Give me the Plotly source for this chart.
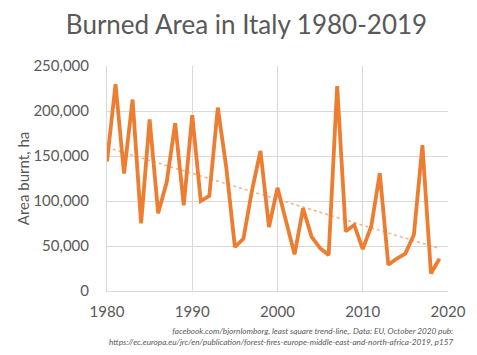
import numpy as np
import plotly.graph_objects as go

years = list(range(1980, 2020))
area = [143919, 229850, 130456, 212678, 75272, 190640, 86420, 120697, 186405, 95161,
        195319, 99860, 105692, 203749, 136334, 48884, 57988, 111230, 155553, 71117,
        114648, 76427, 40791, 91805, 60176, 47575, 39946, 227729, 66329, 73355,
        46537, 72004, 130814, 29076, 36125, 41511, 62581, 161987, 19481, 36034]
x_ticks = [1980, 1990, 2000, 2010, 2020]
y_ticks = [0, 50000, 100000, 150000, 200000, 250000]

coef = np.polyfit(years, area, 1)
trend = [coef[0] * y + coef[1] for y in years]

font = "Lato, 'Open Sans', sans-serif"
grey = "#595959"

fig = go.Figure()
fig.add_trace(go.Scatter(x=years, y=trend, mode="lines",
                         line=dict(color="#F4B183", width=1.5, dash="dot"),
                         hoverinfo="skip", showlegend=False))
fig.add_trace(go.Scatter(x=years, y=area, mode="lines",
                         line=dict(color="#ED7D31", width=3.8),
                         showlegend=False))

fig.update_layout(
    width=477, height=355,
    margin=dict(l=99, r=37, t=58, b=72),
    paper_bgcolor="white", plot_bgcolor="white",
    font=dict(family=font, color=grey, size=15),
    title=dict(text="Burned Area in Italy 1980-2019", x=0.5, xanchor="center",
               xref="container", y=0.952, yanchor="middle",
               font=dict(size=26, color=grey, family=font)),
    xaxis=dict(range=[1980, 2020], tickvals=x_ticks, showgrid=True, gridcolor="#D9D9D9",
               gridwidth=1, zeroline=False, showline=True, linecolor="#D9D9D9",
               ticks="outside", ticklen=7, tickcolor="rgba(0,0,0,0)", automargin=False,
               tickfont=dict(size=15, color=grey)),
    yaxis=dict(range=[0, 250000], tickvals=y_ticks, tickformat=",", showgrid=True,
               gridcolor="#D9D9D9", gridwidth=1, zeroline=False, showline=True,
               linecolor="#D9D9D9", ticks="outside", ticklen=14, tickcolor="rgba(0,0,0,0)",
               automargin=False, tickfont=dict(size=15, color=grey),
               title=dict(text="Area burnt, ha", font=dict(size=15, color=grey), standoff=0)),
    annotations=[dict(
        text="<i>facebook.com/bjornlomborg, least square trend-line,. Data: EU, October 2020 pub:<br>"
             "https://ec.europa.eu/jrc/en/publication/forest-fires-europe-middle-east-and-north-africa-2019, p157</i>",
        xref="paper", yref="paper", x=1.02, y=-0.145, xanchor="right", yanchor="top",
        align="right", showarrow=False, font=dict(size=8.2, color=grey, family=font))],
)
fig.write_html("out.html")
